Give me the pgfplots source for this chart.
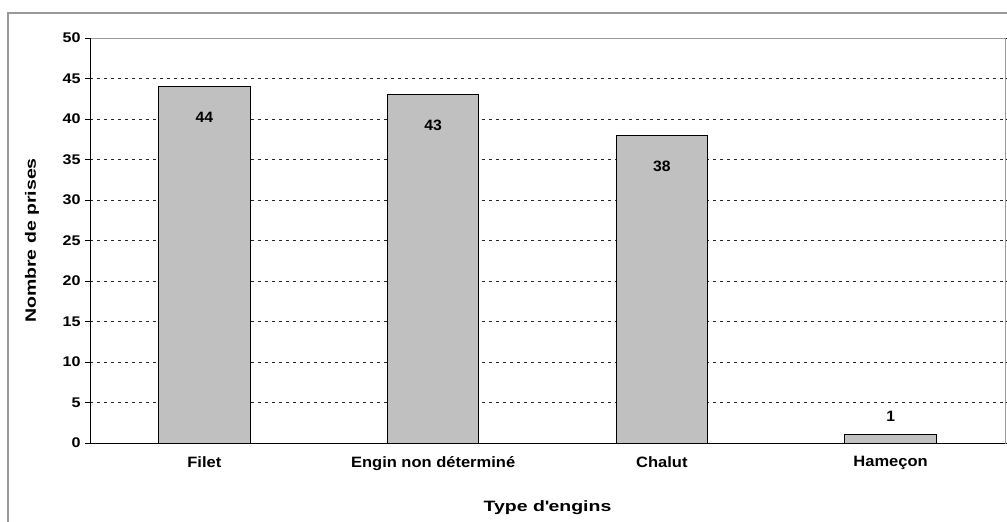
\documentclass[border=0pt]{standalone}
\usepackage{pgfplots}
\pgfplotsset{compat=1.18}
\usepackage{fontspec}
\setmainfont{Liberation Sans}[FakeStretch=1.1]
\newfontfamily\tickfont{Liberation Sans}[FakeStretch=1.15]
\newfontfamily\labfont{Liberation Sans}[FakeStretch=1.3]
\newfontfamily\barfont{Liberation Sans}[FakeStretch=1.05]
\begin{document}
\begin{tikzpicture}
\useasboundingbox (0pt,0pt) rectangle (1007pt,522pt);
\draw[gray!80, line width=1.2pt] (8pt,-5pt) -- (8pt,509pt) -- (1012pt,509pt);
\begin{axis}[
  at={(90pt,79pt)}, anchor=south west,
  scale only axis, width=915pt, height=405pt,
  xmin=-0.5, xmax=3.5, ymin=0, ymax=50,
  ytick={0,5,...,50},
  xtick={0,1,2,3},
  xticklabels={Filet, Engin non déterminé, Chalut, Hameçon},
  x tick style={draw=none},
  extra x ticks={-0.5,0.5,1.5,2.5,3.5},
  extra x tick labels={},
  extra x tick style={major tick length=5pt, tick align=outside, tick style={draw=black}, grid=none},
  y tick style={black},
  major tick length=5pt,
  tick align=outside,
  ymajorgrids,
  major grid style={black!85, dash pattern=on 3pt off 4pt, line width=0.7pt},
  axis line style={gray!80, line width=0.9pt},
  yticklabel style={font=\tickfont\bfseries\fontsize{14}{16}\selectfont, xshift=-1pt},
  xticklabel style={font=\bfseries\fontsize{15}{17}\selectfont, yshift=-5pt},
  /pgf/number format/assume math mode=true,
  xlabel={Type d\textquotesingle engins},
  ylabel={Nombre de prises},
  label style={font=\labfont\bfseries\fontsize{15}{17}\selectfont},
  xlabel style={at={(rel axis cs:0.5,0)}, anchor=center, yshift=-65pt},
  ylabel style={at={(rel axis cs:0,0.5)}, anchor=center, yshift=58pt},
  clip=false,
]
\addplot[ybar, bar width=0.4, bar shift=0pt, fill={rgb,255:red,192;green,192;blue,192}, draw=black, line width=0.9pt,
  nodes near coords, every node near coord/.append style={font=\barfont\bfseries\fontsize{15}{17}\selectfont, anchor=center, yshift=-31pt}]
  coordinates {(0,44) (1,43) (2,38)};
\addplot[ybar, bar width=0.4, bar shift=0pt, fill={rgb,255:red,192;green,192;blue,192}, draw=black, line width=0.9pt,
  nodes near coords, every node near coord/.append style={font=\barfont\bfseries\fontsize{15}{17}\selectfont, anchor=center, yshift=19pt}]
  coordinates {(3,1)};
\draw[black, line width=0.9pt] (rel axis cs:0,1) -- (rel axis cs:0,0) -- (rel axis cs:1,0);
\end{axis}
\end{tikzpicture}
\end{document}
